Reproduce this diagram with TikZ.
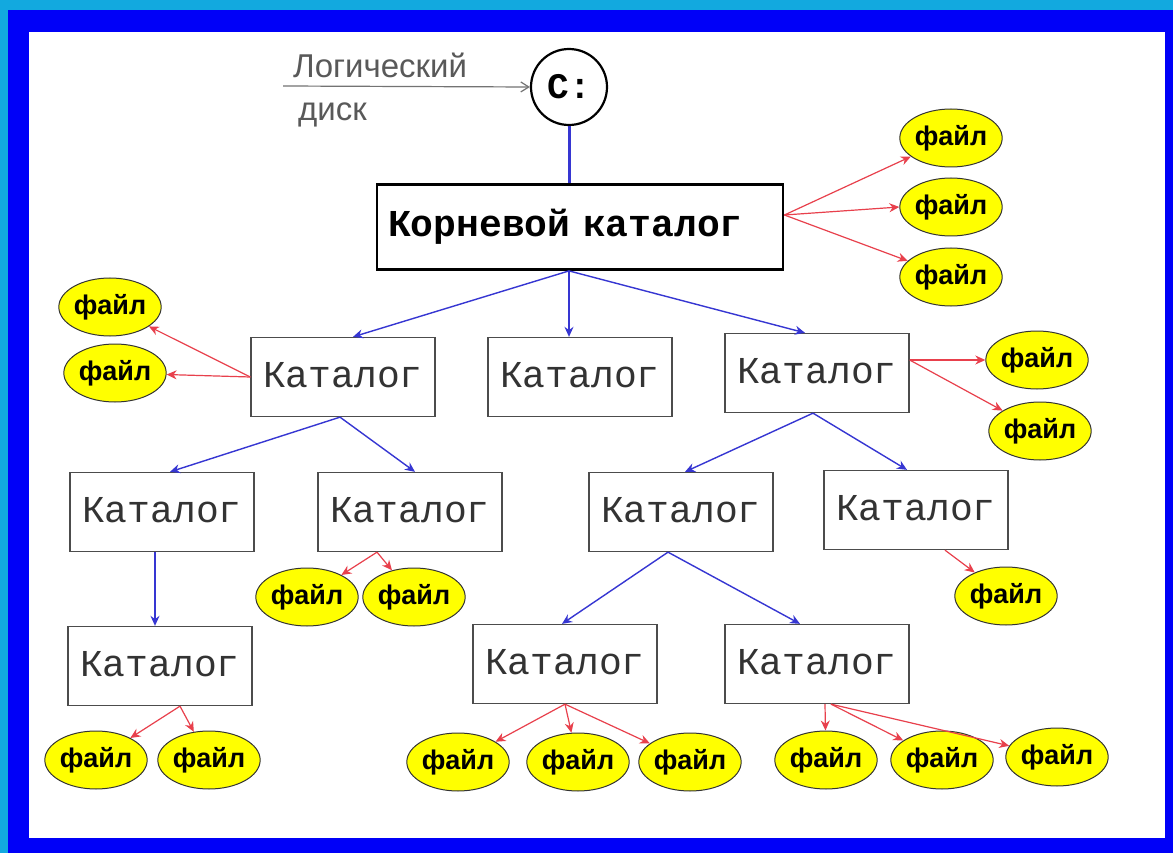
\documentclass[tikz,border=0pt]{standalone}
\usepackage{fontspec}
\setmainfont{Liberation Sans}
\newfontfamily\monofont{Liberation Mono}
\usetikzlibrary{arrows.meta,shapes.geometric}
\definecolor{cyanbg}{HTML}{12A9DF}
\definecolor{bluebg}{HTML}{0000F8}
\definecolor{arrblue}{HTML}{3636D2}
\definecolor{arrred}{HTML}{E8404C}
\definecolor{fileyellow}{HTML}{FFFF00}
\begin{document}
\begin{tikzpicture}[x=1pt,y=-1pt,
 cat/.style={draw=black!70, line width=1.3pt, minimum width=184pt, minimum height=79pt, inner sep=0pt,
   font=\monofont\fontsize{38}{40}\selectfont, text=black!80},
 rootbox/.style={draw=black, line width=2.8pt, minimum height=85pt, inner xsep=11pt, inner ysep=0pt,
   text width=384pt, align=left, font=\monofont\bfseries\fontsize{38}{40}\selectfont},
 disk/.style={circle, draw=black, line width=2.2pt, minimum size=76pt, inner sep=0pt,
   font=\monofont\bfseries\fontsize{36}{40}\selectfont},
 file/.style={ellipse, draw=black!80, line width=1pt, fill=fileyellow, minimum width=100pt,
   minimum height=58pt, inner sep=0pt, font=\bfseries\fontsize{27}{28}\selectfont},
 barr/.style={draw=arrblue, line width=1.4pt, -{Stealth[length=10pt,width=9pt]}},
 rarr/.style={draw=arrred, line width=1.2pt, -{Stealth[length=10pt,width=9pt]}},
 lbl/.style={text=black!65, font=\fontsize{33}{34}\selectfont, inner sep=0pt, anchor=base west}
]
% background frame
\fill[cyanbg] (0,0) rectangle (1173,853);
\fill[bluebg] (8,10) rectangle (1173,853);
\fill[white] (29,32) rectangle (1165,838);
\useasboundingbox (0,0) rectangle (1173,853);

% logical disk
\node[disk] (cd) at (569,87) {C:};
\node[lbl] (lg) at (293,78) {Логический};
\node[lbl] (dk) at (298,121) {диск};
\coordinate (lgs) at (283,86);
\draw[black!55, line width=1.2pt, -{Straight Barb[length=8pt,width=10pt]}] (lgs) -- (cd.west);

% root
\node[rootbox] (root) at (580,227) {Корневой каталог};
\draw[arrblue, line width=3pt] (cd.south) -- (cd.south |- root.north);
\coordinate (rb) at (cd.south |- root.south);

% root files
\node[file] (r1) at (951,138) {файл};
\node[file] (r2) at (951,207) {файл};
\node[file] (r3) at (951,277) {файл};
\draw[rarr] ([yshift=12pt]root.east) -- (r1);
\draw[rarr] ([yshift=12pt]root.east) -- (r2.west);
\draw[rarr] ([yshift=12pt]root.east) -- (r3);

% level 1
\node[cat] (A) at (343,377) {\raisebox{4pt}{Каталог}};
\node[cat] (B) at (580,377) {\raisebox{4pt}{Каталог}};
\node[cat] (C) at (817,373) {\raisebox{4pt}{Каталог}};
\draw[barr] (rb) -- ([xshift=10pt]A.north);
\draw[barr] (rb) -- ([xshift=-11pt]B.north);
\draw[barr] (rb) -- ([xshift=-12pt]C.north);

\node[file] (a1) at (110,307) {файл};
\node[file] (a2) at (115,373) {файл};
\draw[rarr] (A.west) -- (a1);
\draw[rarr] (A.west) -- (a2);

\node[file] (c1) at (1037,360) {файл};
\node[file] (c2) at (1040,431) {файл};
\draw[rarr] ([yshift=13pt]C.east) -- (c1);
\draw[rarr] ([yshift=13pt]C.east) -- (c2);

% level 2
\node[cat] (D) at (162,512) {\raisebox{4pt}{Каталог}};
\node[cat] (E) at (410,512) {\raisebox{4pt}{Каталог}};
\node[cat] (F) at (681,512) {\raisebox{4pt}{Каталог}};
\node[cat] (G) at (916,510) {\raisebox{4pt}{Каталог}};
\draw[barr] ([xshift=-3pt]A.south) -- ([xshift=8pt]D.north);
\draw[barr] ([xshift=-3pt]A.south) -- ([xshift=5pt]E.north);
\draw[barr] ([xshift=-4pt]C.south) -- ([xshift=4pt]F.north);
\draw[barr] ([xshift=-4pt]C.south) -- ([xshift=-9pt]G.north);

\node[file] (e1) at (307,597) {файл};
\node[file] (e2) at (414,597) {файл};
\draw[rarr] ([xshift=-33pt]E.south) -- (e1);
\draw[rarr] ([xshift=-33pt]E.south) -- (e2);

\node[file] (g1) at (1006,596) {файл};
\draw[rarr] ([xshift=29pt]G.south) -- (g1);

% level 3
\node[cat] (H) at (160,666) {\raisebox{4pt}{Каталог}};
\node[cat] (I) at (565,664) {\raisebox{4pt}{Каталог}};
\node[cat] (J) at (817,664) {\raisebox{4pt}{Каталог}};
\draw[barr] ([xshift=-7pt]D.south) -- ([xshift=-5pt]H.north);
\draw[barr] ([xshift=-13pt]F.south) -- ([xshift=-3pt]I.north);
\draw[barr] ([xshift=-13pt]F.south) -- ([xshift=-17pt]J.north);

\node[file] (h1) at (96,760) {файл};
\node[file] (h2) at (209,760) {файл};
\draw[rarr] ([xshift=20pt]H.south) -- (h1);
\draw[rarr] ([xshift=20pt]H.south) -- (h2);

\node[file] (i1) at (458,762) {файл};
\node[file] (i2) at (578,762) {файл};
\node[file] (i3) at (690,762) {файл};
\draw[rarr] (I.south) -- (i1);
\draw[rarr] (I.south) -- (i2);
\draw[rarr] (I.south) -- (i3);

\node[file] (j1) at (826,760) {файл};
\node[file] (j2) at (942,760) {файл};
\node[file] (j3) at (1057,757) {файл};
\draw[rarr] ([xshift=8pt]J.south) -- (j1);
\draw[rarr] ([xshift=14pt]J.south) -- (j2);
\draw[rarr] ([xshift=14pt]J.south) -- (j3);
\end{tikzpicture}
\end{document}
